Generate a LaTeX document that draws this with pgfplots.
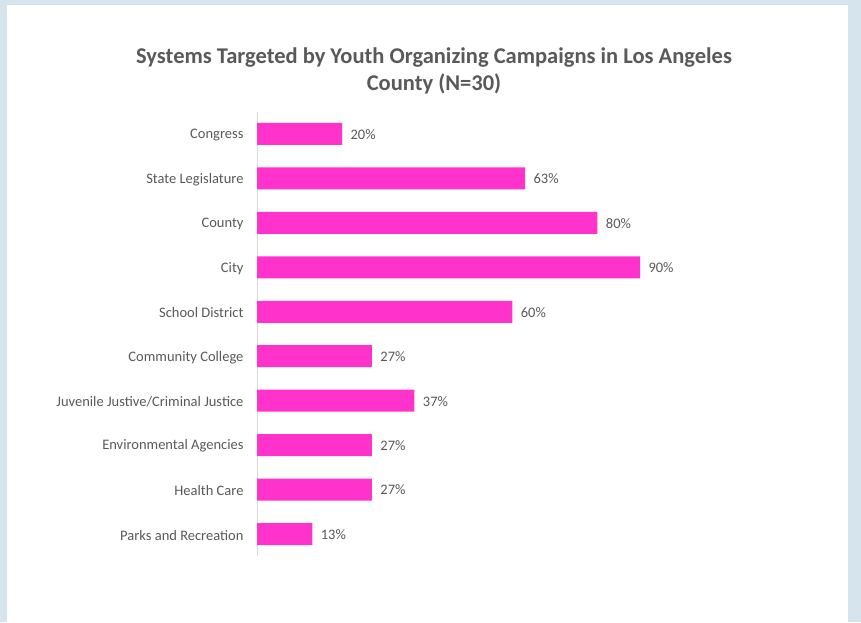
\documentclass[border=0pt]{standalone}
\usepackage{fontspec}
\setmainfont{Carlito}
\usepackage{pgfplots}
\pgfplotsset{compat=1.18}
\definecolor{bgblue}{HTML}{D6E4EE}
\definecolor{barpink}{HTML}{FF33CC}
\definecolor{txt}{HTML}{595959}
\definecolor{axgray}{HTML}{D9D9D9}
\begin{document}
\begin{tikzpicture}[x=1pt,y=1pt]
\fill[bgblue] (0,0) rectangle (861,622);
\fill[white] (7,0) rectangle (848,617);
\node[font=\fontsize{22.5}{27}\selectfont\bfseries, text=txt, align=center] at (434,551.5) {Systems Targeted by Youth Organizing Campaigns in Los Angeles\\County (N=30)};
\begin{axis}[
  at={(257pt,65.75pt)}, anchor=south west,
  scale only axis, width=383pt, height=444.5pt,
  xmin=0, xmax=90, ymin=-0.5, ymax=9.5,
  y dir=reverse,
  xbar, bar width=22pt,
  axis x line=none,
  axis y line*=left,
  y axis line style={draw=axgray, line width=0.8pt},
  ytick={0,...,9},
  yticklabels={Congress,State Legislature,County,City,School District,Community College,Juvenile Justive/Criminal Justice,Environmental Agencies,Health Care,Parks and Recreation},
  major tick length=0pt,
  yticklabel style={font=\fontsize{14.5}{16}\selectfont, text=txt, xshift=-10pt, yshift=-1pt},
  nodes near coords={\pgfmathprintnumber[assume math mode=true]{\pgfplotspointmeta}\%},
  every node near coord/.append style={font=\fontsize{14.5}{16}\selectfont, text=txt, xshift=5pt, yshift=-0.5pt},
  point meta=x,
  clip=false,
]
\addplot[fill=barpink, draw=none] coordinates {(20,0) (63,1) (80,2) (90,3) (60,4) (27,5) (37,6) (27,7) (27,8) (13,9)};
\end{axis}
\end{tikzpicture}
\end{document}
